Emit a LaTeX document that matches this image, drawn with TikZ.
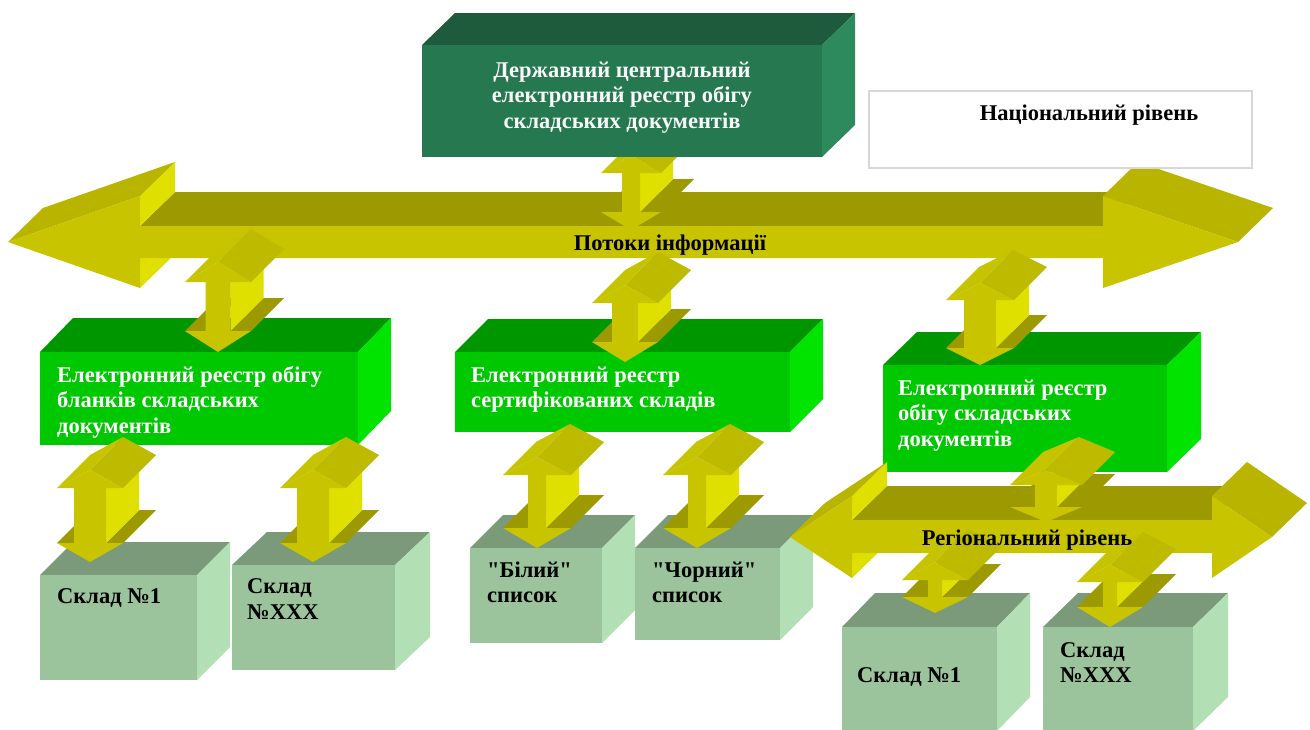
\documentclass[tikz,border=0pt]{standalone}
\usepackage{fontspec}
\setmainfont{Liberation Serif}[Ligatures=TeXOff]
\definecolor{cFront}{RGB}{200,196,0}
\definecolor{cHeadTop}{RGB}{184,180,0}
\definecolor{cOlive}{RGB}{156,154,0}
\definecolor{cBright}{RGB}{224,224,0}
\definecolor{cRoofL}{RGB}{198,195,0}
\definecolor{cRoofR}{RGB}{189,186,0}
\definecolor{tFront}{RGB}{38,120,80}
\definecolor{tTop}{RGB}{30,90,60}
\definecolor{tSide}{RGB}{45,138,92}
\definecolor{gFront}{RGB}{0,200,0}
\definecolor{gTop}{RGB}{0,150,0}
\definecolor{gSide}{RGB}{0,228,0}
\definecolor{sFront}{RGB}{156,196,156}
\definecolor{sTop}{RGB}{122,154,122}
\definecolor{sSide}{RGB}{178,224,180}
\definecolor{natBorder}{RGB}{215,215,215}
\newcommand\fl{\rule{0pt}{17pt}}
% box: x1 y1 x2 y2 dx dy front top side
\newcommand\cubebox[9]{%
  \fill[#8] (#1,#2) -- ({#1+#5},{#2+#6}) -- ({#3+#5},{#2+#6}) -- (#3,#2) -- cycle;
  \fill[#9] (#3,#2) -- ({#3+#5},{#2+#6}) -- ({#3+#5},{#4+#6}) -- (#3,#4) -- cycle;
  \fill[#7] (#1,#2) rectangle (#3,#4);
}
% vertical double arrow: cx yt yb1 yb2 ybt hw sw
\newcommand\vdarrow[7]{%
  \fill[cOlive] ({#1-#6},#4) -- ({#1-#7},#4) -- ({#1-#7+33},{#4-33}) -- ({#1-#6+33},{#4-33}) -- cycle;
  \fill[cOlive] ({#1+#7},#4) -- ({#1+#6},#4) -- ({#1+#6+33},{#4-33}) -- ({#1+#7+33},{#4-33}) -- cycle;
  \fill[cBright] ({#1+#7},#3) -- ({#1+#7},#4) -- ({#1+#7+33},{#4-33}) -- ({#1+#7+33},{#3-33}) -- cycle;
  \fill[cRoofL] ({#1-#6},#3) -- (#1,#2) -- ({#1+33},{#2-33}) -- ({#1-#6+33},{#3-33}) -- cycle;
  \fill[cRoofR] (#1,#2) -- ({#1+#6},#3) -- ({#1+#6+33},{#3-33}) -- ({#1+33},{#2-33}) -- cycle;
  \fill[cFront] (#1,#2) -- ({#1+#6},#3) -- ({#1+#7},#3) -- ({#1+#7},#4) -- ({#1+#6},#4) -- (#1,#5)
     -- ({#1-#6},#4) -- ({#1-#7},#4) -- ({#1-#7},#3) -- ({#1-#6},#3) -- cycle;
}
% horizontal double arrow: xl xr yc hb1 hb2 hh st sb  (depth \hdx,\hdy)
\newcommand\hdarrow[8]{%
  \fill[cBright] (#4,#8) -- (#4,{#3+#6}) -- ({#4+\hdx},{#3+#6+\hdy}) -- ({#4+\hdx},{#8+\hdy}) -- cycle;
  \fill[cOlive] (#4,#7) -- (#5,#7) -- ({#5+\hdx},{#7+\hdy}) -- ({#4+\hdx},{#7+\hdy}) -- cycle;
  \fill[cBright] (#4,{#3-#6}) -- (#4,#7) -- ({#4+\hdx},{#7+\hdy}) -- ({#4+\hdx},{#3-#6+\hdy}) -- cycle;
  \fill[cHeadTop] (#1,#3) -- (#4,{#3-#6}) -- ({#4+\hdx},{#3-#6+\hdy}) -- ({#1+\hdx},{#3+\hdy}) -- cycle;
  \fill[cHeadTop] (#5,{#3-#6}) -- (#2,#3) -- ({#2+\hdx},{#3+\hdy}) -- ({#5+\hdx},{#3-#6+\hdy}) -- cycle;
  \fill[cFront] (#1,#3) -- (#4,{#3-#6}) -- (#4,#7) -- (#5,#7) -- (#5,{#3-#6}) -- (#2,#3)
     -- (#5,{#3+#6}) -- (#5,#8) -- (#4,#8) -- (#4,{#3+#6}) -- cycle;
}
\tikzset{
  lblw/.style={font=\bfseries\fontsize{22.5}{25.5}\selectfont, inner sep=0pt, text=white},
  lblk/.style={font=\bfseries\fontsize{22.5}{25.5}\selectfont, inner sep=0pt, text=black},
}
\begin{document}
\begin{tikzpicture}[x=1pt,y=-1pt]
\useasboundingbox (0,0) rectangle (1310,729);
\fill[white] (0,0) rectangle (1310,729);
\def\hdx{35}\def\hdy{-34}
% big information-flow arrow
\hdarrow{8}{1238}{242}{140}{1103}{46}{226}{258}
% arrow under the top box
\vdarrow{631}{155}{173}{212}{230}{30}{9}
% top box
\cubebox{422}{45}{822}{157}{33}{-32}{tFront}{tTop}{tSide}
\node[lblw, text=white!95!gray, anchor=north, align=center] (tcentral) at (622,60)
  {\fl Державний центральний\\електронний реєстр обігу\\складських документів};
% national level box
\draw[natBorder, line width=1.5pt, fill=white] (869,91) rectangle (1252,168);
\node[lblk, anchor=base] (tnat) at (1089,120) {Національний рівень};
% green boxes
\cubebox{40}{352}{358}{445}{33}{-34}{gFront}{gTop}{gSide}
\node[lblw, anchor=north west, align=left] (tg1) at (57,365)
  {\fl Електронний реєстр обігу\\бланків складських\\документів};
\cubebox{455}{352}{790}{432}{33}{-33}{gFront}{gTop}{gSide}
\node[lblw, anchor=north west, align=left] (tg2) at (471,365)
  {\fl Електронний реєстр\\сертифікованих складів};
\cubebox{883}{365}{1167}{472}{34}{-33}{gFront}{gTop}{gSide}
\node[lblw, anchor=north west, align=left] (tg3) at (898,378)
  {\fl Електронний реєстр\\обігу складських\\документів};
% arrows between flow and green boxes
\vdarrow{218}{262}{282}{331}{352}{33}{12.5}
\vdarrow{625}{285}{303}{342}{362}{33}{13}
\vdarrow{980}{283}{300}{348}{365}{34}{16}
\node[lblk, anchor=base] (tpot) at (670,250) {Потоки інформації};
% warehouse boxes
\cubebox{40}{575}{197}{680}{33}{-33}{sFront}{sTop}{sSide}
\node[lblk, anchor=base west] (ts1) at (57,603) {Склад №1};
\cubebox{232}{565}{395}{670}{35}{-33}{sFront}{sTop}{sSide}
\node[lblk, anchor=north west, align=left] (ts2) at (247,576) {\fl Склад\\[1pt]№XXX};
\cubebox{470}{548}{602}{643}{33}{-33}{sFront}{sTop}{sSide}
\node[lblk, anchor=north west, align=left] (ts3) at (487,560) {\fl "Білий"\\список};
\cubebox{635}{548}{780}{640}{33}{-33}{sFront}{sTop}{sSide}
\node[lblk, anchor=north west, align=left] (ts4) at (652,560) {\fl "Чорний"\\список};
\cubebox{842}{627}{997}{731}{33}{-34}{sFront}{sTop}{sSide}
\node[lblk, anchor=base west] (ts5) at (857,682) {Склад №1};
\cubebox{1043}{627}{1193}{731}{35}{-34}{sFront}{sTop}{sSide}
\node[lblk, anchor=north west, align=left] (ts6) at (1060,640) {\fl Склад\\№XXX};
% regional arrow
\hdarrow{790}{1272}{537}{852}{1212}{41}{520}{553}
\vdarrow{1046}{470}{485}{507}{522}{36}{11}
% lower arrows
\vdarrow{90}{470}{488}{543}{562}{33}{16}
\vdarrow{313}{470}{488}{543}{562}{33}{16}
\vdarrow{537}{457}{475}{528}{548}{34}{9}
\vdarrow{697}{457}{475}{528}{548}{34}{9}
\vdarrow{935}{562}{580}{597}{613}{33}{7}
\vdarrow{1110}{565}{582}{607}{627}{33}{7}
\node[lblk, anchor=base] (treg) at (1027,545) {Регіональний рівень};
\end{tikzpicture}
\end{document}
